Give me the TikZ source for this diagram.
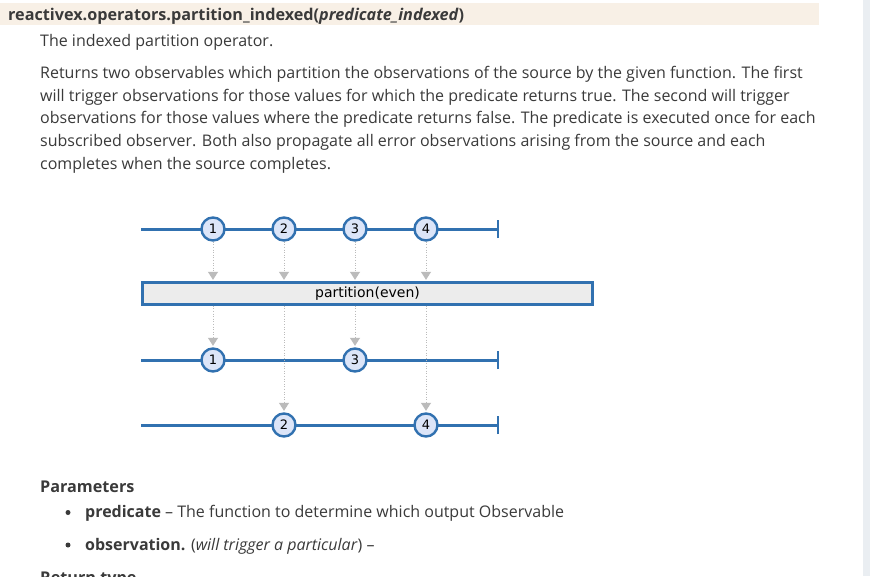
\documentclass[tikz,border=0pt]{standalone}
\usepackage{fontspec}
\setmainfont{Open Sans}
\newfontfamily\dvs{DejaVu Sans}
\usetikzlibrary{arrows.meta}
\definecolor{hdrbg}{HTML}{F8F0E6}
\definecolor{sidebar}{HTML}{EAEEF2}
\definecolor{txt}{HTML}{3A3A3A}
\definecolor{rxblue}{HTML}{3171B0}
\definecolor{mfill}{HTML}{DCE5F8}
\definecolor{boxfill}{HTML}{ECECEC}
\definecolor{arrgray}{HTML}{BBBBBB}
\tikzset{
  body/.style={anchor=base west, inner sep=0pt, text=txt, font=\fontsize{16}{19}\selectfont},
  hdr/.style={anchor=base west, inner sep=0pt, text=txt, font=\fontsize{16.2}{19}\selectfont\bfseries},
  marble/.style={circle, draw=rxblue, fill=mfill, line width=2.4pt, minimum size=23pt, inner sep=0pt, font=\dvs\fontsize{13}{15}\selectfont, text=black},
  tline/.style={draw=rxblue, line width=3pt},
  tick/.style={draw=rxblue, line width=2.5pt},
  opbox/.style={draw=rxblue, fill=boxfill, line width=2.4pt, minimum width=450pt, minimum height=22pt, inner sep=0pt, font=\dvs\fontsize{14}{16}\selectfont, text=black},
  darr/.style={draw=arrgray, line width=1pt, dash pattern=on 1pt off 1.6pt, -{Triangle[width=10pt,length=8pt,fill=arrgray,sep=0pt]}, shorten >=1.5pt},
  bul/.style={circle, fill=txt, inner sep=0pt, minimum size=5pt}
}
\begin{document}
\begin{tikzpicture}[x=1pt,y=-1pt]
\useasboundingbox (0,0) rectangle (870,576);
\fill[white] (0,0) rectangle (870,576);
\fill[sidebar] (863,0) rectangle (870,576);
\fill[hdrbg] (0,3) rectangle (819,25);
\node[hdr] (title) at (8,20) {reactivex.operators.partition\_indexed(\textit{predicate\_indexed})};
\node[body] (sub) at (40,46) {The indexed partition operator.};
\node[body] (p1) at (40,78) {Returns two observables which partition the observations of the source by the given function. The first};
\node[body] (p2) at (40,101) {will trigger observations for those values for which the predicate returns true. The second will trigger};
\node[body] (p3) at (40,123.5) {observations for those values where the predicate returns false. The predicate is executed once for each};
\node[body] (p4) at (40,146) {subscribed observer. Both also propagate all error observations arising from the source and each};
\node[body] (p5) at (40,169) {completes when the source completes.};

% timelines
\coordinate (s1) at (141,229); \coordinate (e1) at (498,229);
\coordinate (s2) at (141,360); \coordinate (e2) at (498,360);
\coordinate (s3) at (141,425); \coordinate (e3) at (498,425);
\draw[tline] (s1) -- (e1);
\draw[tline] (s2) -- (e2);
\draw[tline] (s3) -- (e3);
\draw[tick] ([yshift=-9pt]e1) -- ([yshift=9pt]e1);
\draw[tick] ([yshift=-9pt]e2) -- ([yshift=9pt]e2);
\draw[tick] ([yshift=-9pt]e3) -- ([yshift=9pt]e3);

\node[opbox] (op) at (367.5,293.5) {partition(even)};

\node[marble] (m1) at (213,229) {1};
\node[marble] (m2) at (284,229) {2};
\node[marble] (m3) at (355,229) {3};
\node[marble] (m4) at (426,229) {4};
\node[marble] (n1) at (213,360) {1};
\node[marble] (n3) at (355,360) {3};
\node[marble] (o2) at (284,425) {2};
\node[marble] (o4) at (426,425) {4};

\foreach \m in {m1,m2,m3,m4}{
  \draw[darr] (\m.south) -- (\m.south |- op.north);
}
\draw[darr] (n1.north |- op.south) -- (n1.north);
\draw[darr] (n3.north |- op.south) -- (n3.north);
\draw[darr] (o2.north |- op.south) -- (o2.north);
\draw[darr] (o4.north |- op.south) -- (o4.north);

% parameters
\node[hdr] (par) at (40,492.5) {Parameters};
\node[bul] (b1) at (68,512.5) {};
\node[body] (l1) at (85,517.5) {\textbf{predicate} – The function to determine which output Observable};
\node[bul] (b2) at (68,545) {};
\node[body] (l2) at (85,550) {\textbf{observation.} (\textit{will trigger a particular}) –};
\begin{scope}
\clip (0,0) rectangle (870,576);
\node[hdr] (ret) at (40,583) {Return type};
\end{scope}
\end{tikzpicture}
\end{document}
